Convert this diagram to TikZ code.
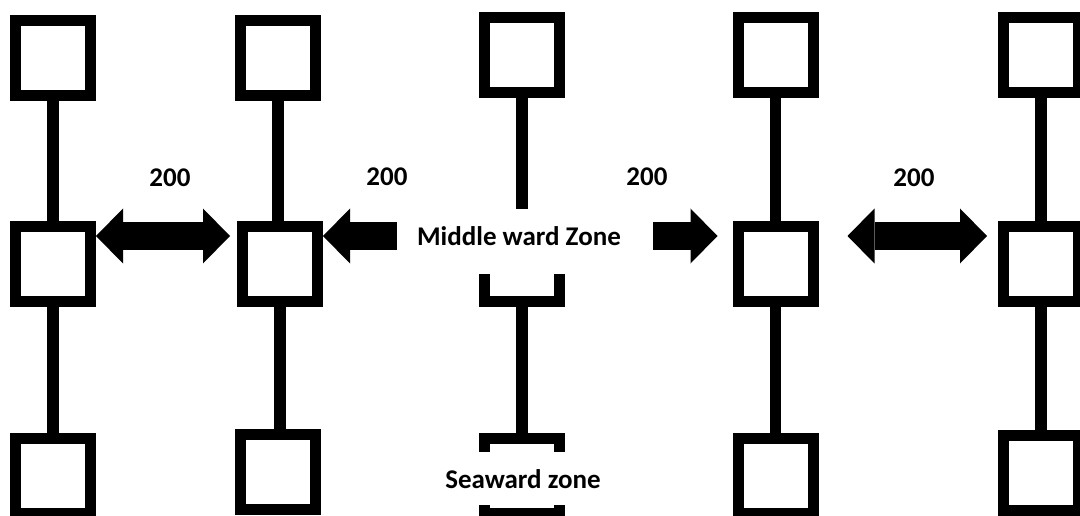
\documentclass[tikz,border=0pt]{standalone}
\usepackage{fontspec}
\setmainfont{Carlito}
\usetikzlibrary{arrows.meta}
\begin{document}
\begin{tikzpicture}[x=1pt,y=-1pt,
  box/.style={draw=black, line width=11pt, fill=white, minimum size=75pt, inner sep=0pt, outer sep=5.5pt},
  stem/.style={draw=black, line width=11.5pt},
  bigarrow/.style={draw=black, line width=28pt, -{Triangle[width=55pt,length=27pt,line width=0pt]}},
  bigdbl/.style={draw=black, line width=28pt, {Triangle[width=55pt,length=27pt,line width=0pt]}-{Triangle[width=55pt,length=27pt,line width=0pt]}},
  lbl/.style={font=\bfseries\fontsize{27}{30}\selectfont, text=black, inner sep=0pt},
  cover/.style={lbl, fill=white, anchor=base}
]
\clip (0,0) rectangle (1080,516);
\fill[white] (0,0) rectangle (1080,516);

% boxes
\node[box] (t1) at (53,58.5) {};
\node[box] (m1) at (53,264) {};
\node[box] (b1) at (53,476) {};
\node[box] (t2) at (278,58.5) {};
\node[box] (m2) at (280,264) {};
\node[box] (b2) at (278,472) {};
\node[box] (t3) at (522,55.5) {};
\node[box] (m3) at (522,264) {};
\node[box] (b3) at (522,475.5) {};
\node[box] (t4) at (775.5,55.5) {};
\node[box] (m4) at (775.5,264) {};
\node[box] (b4) at (775.5,475.5) {};
\node[box] (t5) at (1041,55.5) {};
\node[box] (m5) at (1041,264) {};
\node[box] (b5) at (1041,472.5) {};

% stems
\foreach \c in {1,...,5}{
  \draw[stem] (t\c.south) -- (t\c.south |- m\c.north);
  \draw[stem] (m\c.south) -- (m\c.south |- b\c.north);
}

% zone labels (white background hides parts of the middle column)
\node[cover, text height=37pt, text depth=28pt] (mid) at (519,246) {Middle ward Zone};
\node[cover, text height=36pt, text depth=17pt] (sea) at (523,488) {Seaward zone};

% arrows
\coordinate (ay) at (0,236);
\coordinate (a2) at (397,236);
\coordinate (a3) at (653,236);
\draw[bigdbl, shorten >=7pt] (m1.east |- ay) -- (m2.west |- ay);
\draw[bigarrow] (a2) -- (m2.east |- ay);
\draw[bigarrow, shorten >=15pt] (a3) -- (m4.west |- ay);
\draw[bigdbl, shorten <=29pt, shorten >=11pt] (m4.east |- ay) -- (m5.west |- ay);

% distance labels
\node[lbl] (l1) at (170,178) {200};
\node[lbl] (l2) at (387,177) {200};
\node[lbl] (l3) at (647,177) {200};
\node[lbl] (l4) at (914,178) {200};
\end{tikzpicture}
\end{document}
